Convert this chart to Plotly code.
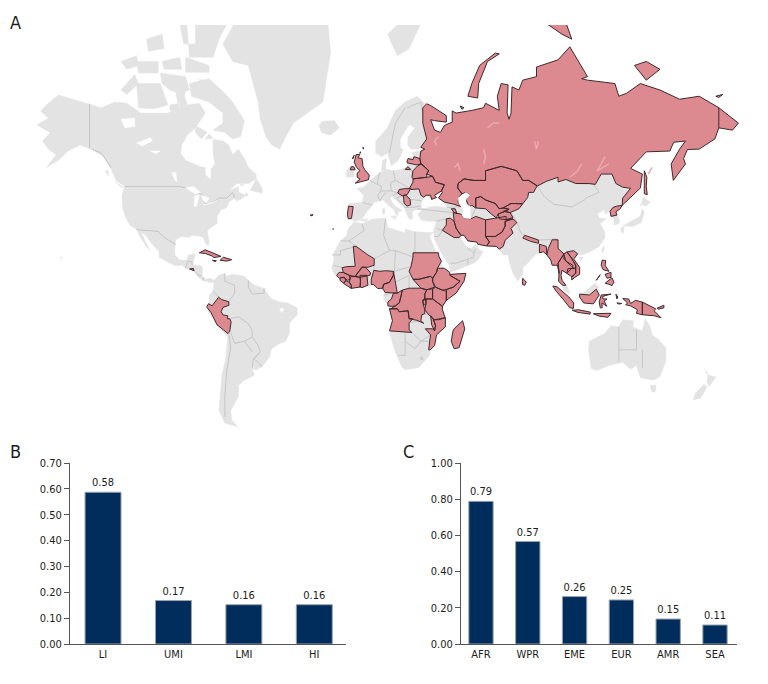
import numpy as np
import plotly.graph_objects as go

# ---------- bar data ----------
income_groups = ["LI", "UMI", "LMI", "HI"]
income_values = [0.587, 0.168, 0.152, 0.152]
income_labels = ["0.58", "0.17", "0.16", "0.16"]
regions = ["AFR", "WPR", "EME", "EUR", "AMR", "SEA"]
region_values = [0.788, 0.566, 0.262, 0.2435, 0.138, 0.105]
region_labels = ["0.79", "0.57", "0.26", "0.25", "0.15", "0.11"]
income_ticks = [0, .1, .2, .3, .4, .5, .6, .7]
region_ticks = [0, .2, .4, .6, .8, 1.0]

# ---------- map data: (lon, lat) outlines ----------
north_america = [(-168,65.6),(-164,66.5),(-162,67),(-166,68.4),(-163,69.5),(-157,71.2),(-150,70.5),(-141,69.7),(-135,69),(-128,70),(-122,69.8),(-115,68),(-108,68),(-101,68),(-95,69),(-94,72),(-91,69.5),(-85,69.8),(-82,68),(-87,65),(-91,63.5),(-94,61),(-94.5,58.8),(-92,57),(-85,55.3),(-82,55),(-82,52.9),(-79.5,51.3),(-79,52),(-79,54.5),(-77,56),(-78,59),(-78,62.4),(-73,62),(-70,61),(-68,58.5),(-65,60),(-62,57.5),(-60,55),(-56,53),(-56,51.5),(-60,50),(-66,50),(-70,47.5),(-65,49),(-65,47),(-61,46),(-64,44.5),(-66,44),(-67,45),(-70,43.5),(-71,41.5),(-74,40.5),(-76,38),(-76,35),(-78,34),(-81,32),(-80,27),(-80.5,25.2),(-82,26.5),(-83,29),(-85,29.7),(-89,30),(-90,29),(-94,29.5),(-97,28),(-97.5,24),(-97.5,21),(-95,18.5),(-91.5,18.5),(-90.5,21),(-87,21.5),(-88,18),(-88.5,16),(-84,15.8),(-83.3,14.5),(-83.7,11),(-82,9),(-79.5,9.5),(-77.5,8.5),(-78,7.3),(-80,7.5),(-83,8.3),(-85.5,10),(-87.5,13),(-91,14),(-94,16),(-97,15.8),(-102,18),(-105.5,20),(-105.5,22.5),(-109,26),(-112.5,30),(-114.7,31.5),(-113,28),(-110,23),(-112,25),(-115,29),(-117,32.5),(-120.5,34.5),(-122.5,37.5),(-124,41),(-124.5,46),(-123,49),(-127.5,51),(-130,54.5),(-134,58),(-140,60),(-146,61),(-152,59.5),(-157,57),(-163,55),(-158,58.5),(-162,60),(-165,62),(-161,64)]
south_america = [(-77.5,8.5),(-75,11),(-72,12),(-71.5,10.5),(-68,11.5),(-62,10.5),(-60,8.5),(-57,6),(-52,4.5),(-50,1),(-48,-1),(-44,-2.5),(-40,-3),(-35.2,-5.5),(-35,-9),(-39,-13),(-39,-18),(-41,-22),(-45,-23.5),(-48.5,-26),(-49,-29),(-53,-33.5),(-56,-34.8),(-58,-34.3),(-57,-37),(-62,-39),(-65,-41),(-65,-45),(-69,-50),(-68.5,-53),(-65.5,-55),(-72,-54),(-75,-50),(-74,-43),(-73.5,-37),(-71.5,-30),(-70.5,-20),(-76,-14),(-81,-6),(-80,-3),(-80,1),(-78,3),(-77.5,7)]
africa = [(-6,35.8),(-2,35),(3,36.8),(10,37.3),(11,33.5),(15,32.3),(20,31),(20,32.8),(25,31.6),(32,31.2),(34.3,31.3),(32.5,29.5),(35,24),(37.3,20),(39,15.5),(43,12),(44,10.5),(51,12),(50,8),(46,2),(41,-2),(39,-6),(40.5,-11),(40.5,-15),(36,-19),(35,-24),(32.8,-26),(32.5,-28.5),(27,-33.8),(20,-34.8),(18.3,-33.5),(15,-27),(12,-18),(13.5,-12),(12,-6),(9,-1),(9.5,3.5),(6,4.3),(4,6.3),(-2,5),(-7.5,4.4),(-13,8.5),(-16.5,12),(-17.5,14.7),(-16.2,19),(-17,21),(-13,27.5),(-9.8,30),(-9,33)]
eurasia = [(-9,37),(-9.3,38.8),(-8.8,43),(-2,43.4),(-1.2,46),(-4.7,48.4),(-1.5,48.7),(2,51),(4,52),(8,53.8),(8.5,57),(10.5,57.5),(10,54.5),(14,54),(19,54.5),(21,55.5),(21.5,57.5),(24,58),(23.5,59.2),(28,59.5),(30,60),(23,60),(21.3,61),(21.5,63),(25,65),(22,65.7),(17.5,62.5),(17.5,60.5),(19,59.8),(16.5,57),(14.5,56),(13,55.5),(11,59),(8,58),(5,59),(5,62),(11,65),(15,68.5),(20,70),(26,71),(31,69.5),(30,65),(33,62),(45,58),(100,57),(125,55),(137,49),(133,44),(130.7,42.3),(127.5,39.8),(129.5,36),(129,35),(126.5,34.5),(126.5,37),(125,38),(124.5,40),(121.5,39),(122,40.8),(118,39),(119,37.3),(122.5,37),(119.5,35),(121.8,31.5),(122,29),(119,25),(114,22.4),(110,21),(108,21.5),(106,19),(109,15),(109,11.5),(106.5,10),(105,8.7),(105,10.3),(102.5,12),(101,13),(100,13.5),(99.5,11),(100,8.5),(103,5),(104,1.5),(101,3),(100.3,6),(98.3,8),(98.5,12),(97.7,16),(95,16),(94.3,18.5),(92,21.5),(90.5,22.5),(87,21.5),(85,19.7),(82,16.5),(80,15),(80,12),(77.5,8),(75,12),(73,18),(72.5,21),(70,21),(68,23.7),(66.5,25),(61.5,25.2),(57,26),(56.5,27),(52,27.5),(50,30),(48.5,30),(48,29),(50,26.5),(51.5,24.5),(54,24.2),(56,26),(57,24),(59.8,22.5),(57.5,19),(55,17),(52,16),(45,13),(43,12.8),(42.5,16),(39,21),(35,28),(34.9,29.5),(34.3,31.3),(36,36),(32,36),(28,36.5),(26.5,39),(29,41),(35,42),(41.5,41.5),(39,44),(37,45),(39,47),(35,46),(33.5,44.5),(30.7,46),(28.5,44),(28,42),(29,41),(26,40.7),(23.5,40),(24,38),(23,36.5),(21.5,37.5),(19.5,41.5),(15,44.5),(13.5,45.7),(12.3,45),(14,42.5),(18.5,40.2),(16.5,39.8),(16,38),(14,40.8),(10.5,43),(8.8,44.3),(4,43.4),(3,42),(0,39.5),(-2,36.8),(-5.5,36)]
australia = [(114,-22),(113.5,-26),(115,-34.3),(118,-35),(124,-33),(131,-31.5),(135,-34.5),(138,-33),(140,-38),(146.5,-39),(150,-37.5),(153,-31),(153,-25),(149,-21),(146,-19),(145,-15),(142.5,-11),(141,-17),(136,-15),(136.5,-12),(131,-11.5),(129,-15),(125,-14.5),(122,-18)]
greenland = [(-73,78),(-68,76),(-60,75.5),(-55,70),(-54,67),(-51,63),(-48,61),(-44,60),(-41,63),(-37,66),(-30,68),(-22,70),(-20,74),(-18,77),(-20,81),(-30,83.5),(-60,82)]
small_land = [
    [(-24,65.5),(-22,66.4),(-16,66.5),(-13.6,65),(-18,63.4),(-22.5,63.9)],
    [(-80,73.7),(-72,71.5),(-68,70),(-62,66.5),(-64,63),(-68,62.5),(-72,64),(-78,64.5),(-73,66),(-73,68),(-80,70),(-89,71),(-90,73)],
    [(-117,73),(-105,73),(-101,69.5),(-108,68.8),(-116,69)],
    [(-125,72),(-118,74.3),(-116,73),(-122,71.3)],
    [(-90,76.5),(-78,76.5),(-75,78.5),(-62,82.5),(-75,83),(-92,81)],
    [(-92,76.5),(-80,75.5),(-80,74.6),(-92,74.6)],
    [(-117,76),(-106,76),(-106,74.5),(-116,74.5)],
    [(-95,80),(-87,80),(-87,78),(-93,78)],
    [(-87,65.5),(-81,64),(-84,62.5),(-87,64)],
    [(-59,47.7),(-53,46.7),(-53,48.5),(-56,51.5)],
    [(-128,50.7),(-123.5,48.5),(-125,48.8)],
    [(-10,52),(-6,52.2),(-6,53.8),(-8,55.2),(-10,54)],
    [(130.8,34),(136,36.5),(139.8,38),(141,41),(142,39.5),(140.5,35.5),(136,33.8),(132.5,34)],
    [(130,33.5),(131.8,33.5),(131.3,31),(130.3,31.3)],
    [(140,42),(141.5,45.4),(145,43.5),(143,42),(141,42.5)],
    [(121,25),(121.8,24.5),(120.7,22),(120.2,23)],
    [(109,20),(110.8,20),(109.8,18.3),(108.7,19)],
    [(145,-41),(148,-41),(147.5,-43.5),(146,-43.5)],
    [(172.7,-34.5),(175,-37),(178.5,-37.7),(175,-41.5),(174,-39.5),(174.5,-37)],
    [(172.5,-40.7),(174,-41.7),(170.7,-45.8),(167,-46.3),(168,-44)],
    [(109.5,1.5),(111.5,2.5),(114,4.7),(116.8,7),(119,5),(117.5,4),(114,1)],
    [(8.5,41),(9.7,41),(9.5,39),(8.5,39)],
    [(12.5,38),(15.5,38.2),(15,36.7)],
    [(11,79),(20,80.5),(28,80),(22,77.5),(16,76.7)],
    [(-105,74.5),(-92,74),(-90,72),(-95,71.5),(-100,72),(-104,73)],
    [(-104,76),(-95,76.5),(-94,75),(-103,75)],
    [(-100,69.5),(-95,69.8),(-96,68.2),(-100,68.5)],
    [(-97,71.5),(-92,72),(-93,70),(-96,69.9)],
    [(-112,78.5),(-104,79),(-103,77.5),(-111,77.2)],
    [(-125,76),(-117,76.7),(-116,75.5),(-122,75)],
    [(-85,73.6),(-80,73.3),(-84,72.8)],
    [(-80,63.7),(-78,62.6),(-82,62.5)],
    [(-64,49.8),(-62,49.5),(-64,49.2)],
    [(-61,47),(-60,46),(-61.5,45.7)],
    [(-133,54),(-131.5,54),(-131.5,52.5)],
    [(-155,20),(-155.5,19),(-156,20)],
    [(-3,36.5),(1,37),(0,35.8)],
]
russia = [(31,69.7),(33,69.4),(41,67.5),(41,66.2),(35,66.5),(33,66.7),(35,64.5),(38,64),(40,65.5),(44,66.2),(44,68.4),(46,68),(54,68.5),(60,69),(61,69.8),(68,68.5),(67,71),(69,73),(72.5,72.8),(72,68),(73,66.8),(74,68),(74.5,72.5),(78,72),(80,73.5),(87,74),(87,75.3),(98,76.2),(104,77.7),(113,74),(110,73.7),(113,73.5),(127,73),(129,71),(133,71.5),(140,73),(150,72),(160,70.5),(170,71),(178,69.5),(180,69),(190,66),(187,64.5),(180,65),(178,62.5),(170,60),(164,59.9),(162,57.5),(163,56),(156.8,51),(155.7,56),(160,60),(163,62),(157,61.7),(155,59.5),(143,59.3),(135,54.7),(141,53),(140,48.5),(132,43.2),(130.7,42.3),(131,45),(135,48.4),(130.8,48.8),(127.5,50),(125.5,53),(120,53),(117,49.7),(114,50),(107,50),(102,51.3),(98,50.5),(98,52),(92,50.7),(87.5,49.2),(83,51),(80,51),(77,54),(71,55),(69,55.3),(61,54),(61,51),(55,51),(50,51.5),(47,50),(46.8,48.5),(49,46.5),(47.5,45.5),(47,43.5),(48.5,41.8),(45,42.7),(40,43.5),(37,45),(39,47),(38.5,47.5),(40,49.6),(35.5,50.4),(34,52.3),(31,53),(32,54),(28,56),(27.5,57.5),(28,59.5),(30,60),(28,60.5),(31,62.5),(29,66),(29,69)]
russia_islands = [
    [(142,54),(143.3,52),(143,49),(143.5,46.2),(142,46.5),(142,50)],
    [(52,71),(57,70.7),(57.5,73),(62,76),(68,76.9),(66,77),(58,75.5),(54,73)],
    [(92,80),(100,79),(105,78.5),(100,81)],
    [(137,75.5),(143,73.5),(150,75),(143,76)],
    [(178.5,71),(182,71.3),(180,70.8)],
    [(20,54.4),(22.8,54.4),(21.5,55.2)],
    [(48,69.3),(50,69),(49,68.7)],
    [(55,81),(60,81),(62,80),(54,80)],
]
central_asia = [
    [(47,50),(50,51.5),(55,51),(61,51),(61,54),(69,55.3),(71,55),(77,54),(80,51),(83,51),(87.3,49.2),(85.5,47),(83,47),(82.5,45.2),(80,42.9),(74,43),(70,41.3),(68,41),(66,43),(61,44.3),(58.5,45.5),(56,45),(56,41.3),(54,42.3),(52.5,41.8),(51,44.5),(53,46),(51,47),(49,46.5),(46.8,48.5)],
    [(56,45),(58.5,45.5),(61,44.3),(66,43),(68,41),(70,41.3),(73,40.8),(71,40),(67.5,39),(66.5,37.4),(64,38.9),(61,41),(56,41.3)],
    [(70,41.3),(74,43),(80,42.9),(78,41),(73.5,39.5),(70,40),(73,40.8)],
    [(67.5,39),(71,40),(73.5,39.5),(75,37.5),(71.5,36.7),(68,37)],
    [(61,36.6),(64,37),(66.5,37.4),(71.5,38),(71.5,36.7),(75,37),(71,36),(71,34),(69.5,31.5),(66,29.5),(61,29.5),(61,35)],
    [(61,29.5),(66,29.5),(69.5,31.5),(71,34),(71,36),(75,37),(77,35.5),(74,33),(75,31),(71,27.8),(70,25),(68,23.7),(66.5,25),(61.5,25.2),(63,27)],
    [(44.5,39.5),(48,39),(49,38.5),(50,37.3),(53.5,37),(56,38),(61,36.6),(61,35),(61,29.5),(63,27),(61.5,25.2),(57,26),(56.5,27),(52,27.5),(50,30),(48.5,30),(46,33),(45,36)],
    [(43,37.3),(45,36),(46,33),(48.5,30),(47.5,29),(45,29),(39,32.2),(41,34.5),(41,37)],
    [(43.5,41),(45.5,41),(46.5,39),(44.8,39.7)],
]
europe_red = [
    [(24,50.5),(24,51.5),(31,52),(34,52.3),(35.5,50.4),(40,49.6),(38.5,47.5),(35,46),(36,45.2),(33.5,44.5),(33,46),(30.7,46),(29.5,45.3),(28,46),(27,48.2),(23,48),(22.3,48.5)],
    [(23.5,52),(24,51.5),(31,52),(31,53),(32,54),(28.5,56),(26.5,55.5),(24,54)],
    [(21,56.8),(21.5,57.5),(24,57.2),(24.5,58),(27.5,57.5),(28,56),(26,55.7),(21,56.3)],
    [(16.2,46.8),(17,48),(20,48.3),(22.8,48.3),(21,46.2),(18.5,45.8)],
    [(19,46),(20.5,46),(22.5,44.5),(22.8,42.5),(21,42),(19.5,43)],
    [(-9.5,38.7),(-8.9,42),(-6.5,41.8),(-7,39.5),(-7.4,37.2),(-9,37)],
    [(-5.5,50.1),(1.3,51.2),(1.7,52.7),(-0.2,54),(-1.5,55.2),(-2,57.5),(-4,57.7),(-3.2,58.6),(-5,58.6),(-6,56.5),(-4.8,55),(-3,54),(-4.5,53.3),(-4.5,52),(-3,51.4)],
    [(-8,54.3),(-5.5,54.3),(-6.2,55.2),(-7.5,55.2)],
    [(-7,57.5),(-6,58.4),(-6.5,57.5)],
    [(-3.3,59),(-2.7,59.3),(-2.9,58.9)],
    [(-1.5,60.5),(-1,60.1),(-1.3,60)],
    [(-28.5,38.5),(-27,38.7),(-27.5,38.2)],
    [(-17,32.8),(-16.5,32.7),(-16.8,32.6)],
]
africa_red = [
    [(-12.2,14.8),(-11.5,12.4),(-8.5,11),(-5.5,10.4),(-4.5,12),(-3,13.6),(-2,15.1),(1,15),(4.2,16),(4.2,19.2),(1,21),(-5,25),(-6.5,25),(-5.5,15.5),(-10,15.3)],
    [(-5.5,10.4),(-3,10),(2,11),(2.4,12.2),(0,14.8),(-2,15.1),(-3,13.6),(-4.5,12)],
    [(-13.5,9.5),(-15,10.9),(-13.7,12.5),(-11.5,12.4),(-8.5,11),(-8,9),(-9.5,8.5),(-10.5,9.5),(-12,10)],
    [(-13.3,8.5),(-11.3,7),(-10.3,8.5),(-11,10),(-13,9.8)],
    [(-11.4,6.9),(-7.5,4.4),(-7.5,6),(-8.5,7.5),(-10.3,8.4)],
    [(-7.5,4.4),(-3,5.1),(-2.8,8),(-3,10),(-5.5,10.4),(-8,10.3),(-8.5,7.5),(-7.5,6)],
    [(-3,5.1),(-2,4.8),(1,6),(0.5,11),(-3,11),(-2.8,8)],
    [(2.7,6.4),(4,6.3),(6,4.3),(8.5,4.5),(9,6.5),(12,7.5),(14,11),(14,13),(10,13.3),(7,13),(4,13.5),(3.5,11.5),(2.7,9)],
    [(8.5,4.5),(9.8,2.3),(16,2),(15,7.5),(14.5,12),(14,13),(14,11),(12,7.5),(9,6.5)],
    [(24,20),(24,22),(36.9,22),(37.3,20),(38.5,18),(36.5,14.5),(36,12.5),(34,9.5),(33,10.5),(29,9.5),(27,9),(24,9),(22.8,11),(22,13),(23,15.5)],
    [(24,9),(27,9),(29,9.5),(33,10.5),(34,9.5),(34,8),(35,5),(31,3.7),(28,4.5),(24.5,8)],
    [(36,12.5),(36.5,14.5),(38,14.5),(40,14.5),(42.7,12.5),(42.8,11),(48,8),(44.5,5),(41.5,4),(39,3.5),(35.5,5),(34,8),(34,9.5)],
    [(43,11.5),(51,12),(50,8),(46,2),(41,-1.7),(41,3),(41.5,4),(44.5,5),(48,8),(43,11)],
    [(34,4.2),(35.5,5),(39,3.5),(41,3),(41,-1.7),(39,-4.7),(34,-1)],
    [(30,-1),(34,-1),(34,4.2),(31,3.7),(30,1.5)],
    [(30,-1),(34,-1),(39,-4.7),(39,-6.5),(40.4,-10.5),(35,-11.5),(32,-9),(30,-6.5),(30.7,-3)],
    [(29,-1.5),(30.8,-1.2),(30.5,-4),(29.3,-4)],
    [(12,-6),(13,-5.8),(15,-4.5),(17,-3),(18,1),(18.5,3.5),(22,4.5),(28,4.5),(31,3.7),(30,1.5),(30,-1),(29,-1.5),(29.3,-4),(30,-6.5),(30,-8.5),(28.5,-9),(28,-12),(29.5,-13.3),(26,-11.8),(22,-11),(21.5,-7),(17,-7.5),(16,-6)],
    [(11.2,-4.5),(13,-4.8),(15,-4.5),(17,-3),(18,1),(18.5,3.5),(16,2),(14,2),(13,-1),(11.2,-2.5)],
    [(12,-6),(16,-6),(17,-7.5),(21.5,-7),(22,-11),(24,-11),(22,-13),(22,-16.5),(23.5,-17.8),(20,-17.5),(12,-17),(13.5,-12)],
    [(33,-9.5),(34.5,-11.5),(35.5,-14.5),(35,-17),(33.5,-14),(33,-11)],
    [(40.5,-10.5),(40.5,-15),(36,-19),(35,-24),(32.8,-26),(32,-26),(32.5,-22),(33,-19),(30.3,-16),(34,-16),(35,-17),(35.5,-14.5),(34.5,-11.5),(37,-11.5)],
    [(49.3,-12),(50.4,-16),(47.5,-25),(45,-25.5),(43.5,-22),(44.5,-16.5)],
]
asia_red = [
    [(80,28.8),(81,30),(88,27.9),(88,26.4),(84,27.3)],
    [(88.5,26),(92,25),(92.3,21),(90.5,22.5),(88.5,22)],
    [(92.3,21),(93,24),(95,28),(98,28),(98,24),(101,21.5),(100,20),(98,17),(98.5,12),(97.7,16),(95,16),(94.3,18.5)],
    [(100,20),(101,21),(102,18),(105.5,15),(102.5,12),(101,13),(100,13.5),(99.5,11),(100,8.5),(102,6),(100.3,6),(98.3,8),(98.5,12),(98,17)],
    [(101,21.5),(102.5,22.4),(104.5,20),(107,16),(107,14.5),(105.5,14.5),(105.5,16),(102,18),(101,19)],
    [(102.5,12),(103,14.3),(107,14.5),(107,12),(105,10.3)],
    [(102.5,22.4),(106,23),(108,21.5),(106,19),(109,15),(109,11.5),(106.5,10),(105,8.7),(105,10.3),(107,12),(107,16),(104.5,20)],
    [(80,9.5),(81.8,7.5),(81,6),(80,6.2),(79.8,8)],
    [(124.5,40),(125,38),(128,38.5),(127.5,39.8),(129.7,41),(130.7,42.3),(128,42),(126,41.5)],
    [(120.5,18.5),(122.3,18.3),(122,16),(124,13),(121,13.8),(120,16)],
    [(122,7),(125.5,9.8),(126.5,7.5),(125.5,5.8),(124,6.5)],
    [(122,11.5),(125,12.5),(125,10),(123,9.5)],
    [(117.5,8.5),(119.5,11.3),(119,10)],
    [(95.3,5.6),(97.5,5.2),(103.5,0),(106,-3),(105.8,-5.8),(104,-5.5),(100.5,-1),(97,3)],
    [(105.2,-6.7),(108.5,-6.5),(114.5,-7.7),(114.3,-8.7),(108,-7.8)],
    [(109,1.5),(114,1),(117.5,4),(119,1),(116,-3.5),(111,-3),(109,0)],
    [(120,1),(125,1.5),(120.7,0.3),(121,-1),(123,-1),(121.5,-2),(122.8,-4.7),(120.4,-3),(120.5,-5.5),(119.5,-5.5),(119,-2.5)],
    [(116,-8.5),(119,-8.3),(123,-8.3),(125,-8.3),(123.5,-10.3),(119,-9.7)],
    [(127.5,1.5),(128.5,0),(128,-1)],
    [(128,-3),(130.5,-3.3),(129,-3.6)],
    [(131,-0.8),(134,-1),(135,-3.3),(137.5,-1.7),(141,-2.6),(141,-9),(138,-8.3),(138.5,-6.5),(135,-4.5),(132.5,-4),(133.5,-3)],
    [(141,-2.6),(145,-4.5),(147.8,-6),(147,-7),(150.5,-10.5),(147,-9.5),(143,-9.2),(141,-9)],
    [(148.5,-5.7),(152,-4.2),(152,-5.5),(149,-6.2)],
]
caribbean_red = [
    [(-85,22),(-82,23.4),(-77,21.5),(-74,20.3),(-77.5,19.7),(-78.5,20.5),(-82,21.7)],
    [(-74.4,18.4),(-72.8,19.9),(-68.5,18.7),(-71,18)],
    [(-78.3,18.4),(-76.3,18.2),(-77,17.8)],
    [(-90,14.2),(-87.7,13.3),(-88,14.4)],
]
peru = [(-75.2,-0.1),(-73.6,-1.3),(-70,-2.4),(-69.9,-4.2),(-72.9,-5.3),(-73.9,-7.4),(-72.9,-9.1),(-70.5,-9.5),(-70.6,-11),(-69.5,-11),(-68.8,-12.5),(-69.3,-15.5),(-69.5,-17.3),(-70.4,-18.3),(-76,-14),(-79,-8),(-81.3,-5),(-80.3,-3.4),(-78.5,-4.5)]
chukotka_line = [[(180,69),(180,65)]]
water = [
    [(47,45),(51,47),(53,46),(51,44.5),(50.5,43),(53,42),(53,40),(53.5,37),(50,37.3),(49,38.5),(50,40.3),(47.5,43)],
    [(-92,48.5),(-88,49),(-84.5,47),(-87,46.5)],
    [(-87.5,45.8),(-85,46),(-86.5,42),(-87.7,42)],
    [(-84,46),(-80,45),(-81.5,43.3),(-83,44)],
    [(-83,42.5),(-79,43),(-76,44),(-78,43.4)],
    [(-125,66.8),(-118,67),(-118,65.3),(-123,65)],
    [(-117,61.5),(-110,62.8),(-109,62),(-114,60.8)],
    [(-99,53.5),(-97,53.5),(-96.5,50.5),(-97.5,51)],
    [(-110,59.5),(-105,59.5),(-107,58.8)],
    [(-44,-6),(-42,-6),(-43,-8)],
]
pale_streaks = [
    [(104,52),(108,54),(110,56)], [(62,65),(65,66),(68,66)], [(36,61),(35,62),(37,63)],
    [(60,56),(61,58),(60,60)], [(48,54),(47,56),(45,55)], [(86,62),(87,60),(88,62)],
    [(122,58),(118,54),(124,56)], [(144,53),(146,55)],
]
grey_borders = [
    [(-141,69.7),(-141,60)], [(-140,60),(-135,59),(-130,55)], [(-123,49),(-95,49),(-89,48),(-83,46),(-82,43),(-79,43),(-75,45),(-71,45),(-68,47),(-67,45)],
    [(-117,32.5),(-106,31.7),(-103,29),(-97.2,26)], [(-92,14.5),(-91,17.8),(-89,17.8),(-88.5,16)], [(-83.7,11),(-85.5,11),(-87.5,13)], [(-83,8.3),(-83,10)],
    [(-72,12),(-72,8),(-67,6),(-67,2),(-70,-2.4)], [(-78,3),(-75,0)], [(-60,8.5),(-60,5),(-58,1.5),(-52,2),(-52,4.5)],
    [(-69.5,-11),(-65,-10),(-60,-13.5),(-58,-17),(-58,-20),(-62,-22),(-67,-23),(-69,-18)],
    [(-58,-20),(-55,-24),(-54,-27),(-57.5,-30),(-58,-34)], [(-70,-18),(-69,-25),(-71,-35),(-72,-45),(-72,-52)], [(-58,-27),(-62,-22)], [(-54,-27),(-57,-30),(-53,-33.5)],
    [(-2,35),(-1,32),(-8.7,27.5),(-13,27.5)], [(-8.7,27.5),(-5,25)], [(-17,21),(-13,21),(-13,23),(-5,25)], [(-16.5,16),(-12.2,14.8)],
    [(9,30),(10,37)], [(9,30),(12,23),(4.2,19.2)], [(12,23),(15,23),(24,20)], [(25,31.6),(25,22)], [(25,22),(36.9,22)],
    [(15,23),(14.5,12)], [(4.2,16),(4,13.5)], [(14,13),(24,15.5)], [(15,7.5),(22,11)], [(22,4.5),(22,11)],
    [(12,-17),(23.5,-17.8),(28,-22),(33,-19)], [(20,-17.5),(20,-28.5),(16.5,-28.5)], [(20,-22),(25,-25.5),(28,-22)], [(28,-22),(32,-22)], [(22,-13),(28,-12)], [(30,-8.5),(33,-9.5)],
    [(9,1),(13,2)], [(28.5,-29),(29,-30.5),(27.5,-30),(28.5,-29)],
    [(2,51),(6,49.5),(8,49),(7.5,47.5),(6,46),(7,44)], [(-1.8,43.3),(3,42.5)], [(7,53.5),(6,51),(6,49.5)], [(14,54),(15,51),(12.5,50.3),(13,47.5),(10,47.5),(7.5,47.5)],
    [(15,51),(19,49.5),(22.3,48.5)], [(13,47.5),(16.2,46.8),(13.5,45.7)], [(7,44),(10,47)], [(18.5,45.8),(15.5,45),(19.5,42)],
    [(22.8,42.5),(22.5,44.5),(28.5,44)], [(21,46.2),(22,48)], [(23,41.5),(28,42)], [(19.5,41.5),(23,41.5)],
    [(23.5,54),(23.5,52)], [(19,54.5),(23.5,54)], [(12,59),(15,66),(20,69)], [(21,69),(28,70),(30,65)],
    [(26,41),(44.5,39.5)], [(36,36),(41,37)], [(39,32.2),(36,33)], [(39,32.2),(37,29.5),(35,29.5)], [(48,29),(45,29),(39,32)], [(51.5,24.5),(55,22),(55,20),(52,19),(52,16)], [(43,17),(46,17),(52,19)], [(56,24),(55,22)],
    [(56,41.3),(53.5,37)], [(41.5,41.5),(48.5,41.8)],
    [(87.5,49.2),(91,45.5),(96,42.7),(105,41.7),(112,44.5),(112,45),(119,47),(116,49.7),(107,50)], [(80,42.9),(74,39.5),(77,35.5),(79,31),(81,30)], [(88,27.9),(92,28),(97,28.5),(98,24)],
    [(101,21.5),(102.5,22.4)], [(124.5,40),(130.7,42.3)], [(74,33),(75,31),(71,27.8),(70,25),(68,23.7)],
    [(100.3,6),(102,6)],
    [(129,-15),(129,-31.5)], [(138,-16.5),(138,-26),(129,-26)], [(141,-26),(141,-34)],
]

lon_left, lon_right = -186.7, 205.1
merc_top, merc_bottom = 2.422, -1.184


def merc(lat):
    return np.log(np.tan(np.pi / 4 + np.radians(lat) / 2))


def paths(polys, close=True):
    xs, ys = [], []
    for poly in polys:
        pts = list(poly) + ([poly[0]] if close else [])
        xs += [p[0] for p in pts] + [None]
        ys += [float(merc(p[1])) for p in pts] + [None]
    return xs, ys


def add_fill(polys, fill, line, width):
    x, y = paths(polys)
    fig.add_trace(go.Scatter(x=x, y=y, mode="lines", fill="toself", fillcolor=fill,
                             line=dict(color=line, width=width), hoverinfo="skip", showlegend=False))


def add_line(polys, color, width):
    x, y = paths(polys, close=False)
    fig.add_trace(go.Scatter(x=x, y=y, mode="lines", line=dict(color=color, width=width),
                             hoverinfo="skip", showlegend=False))


fig = go.Figure()
GREY = "#e3e3e3"
RED = "#dc8a90"
EDGE = "#40292d"
add_fill([north_america, south_america, africa, eurasia, australia, greenland] + small_land, GREY, GREY, 0.5)
add_line(grey_borders, "#c6c6c6", 1)
add_fill([russia] + russia_islands + central_asia + europe_red + africa_red + asia_red + caribbean_red + [peru],
         RED, EDGE, 1)
add_line(chukotka_line, EDGE, 1)
add_line(pale_streaks, "#eba9ad", 1.5)
add_fill(water, "#ffffff", "#ffffff", 0.5)

FONT = "DejaVu Sans Condensed, Liberation Sans Narrow, sans-serif"
INK = "#1d1d1b"
AXIS = "#555555"
NAVY = "#002d5b"
EDGE_BAR = "#9aa3ad"

fig.add_trace(go.Bar(x=income_groups, y=income_values, text=income_labels, textposition="outside",
                     width=0.511, marker=dict(color=NAVY, line=dict(color=EDGE_BAR, width=1)),
                     xaxis="x2", yaxis="y2", cliponaxis=False, showlegend=False,
                     textfont=dict(family=FONT, size=11, color=INK)))
fig.add_trace(go.Bar(x=regions, y=region_values, text=region_labels, textposition="outside",
                     width=0.52, marker=dict(color=NAVY, line=dict(color=EDGE_BAR, width=1)),
                     xaxis="x3", yaxis="y3", cliponaxis=False, showlegend=False,
                     textfont=dict(family=FONT, size=11, color=INK)))

W, H = 768, 684
tick = dict(family=FONT, size=11, color=INK)


def ydom(bottom, top):
    return [1 - bottom / H, 1 - top / H]


common = dict(automargin=False, showgrid=False, zeroline=False)
fig.update_layout(
    template="none",
    width=W, height=H, autosize=False, margin=dict(l=0, r=0, t=0, b=0, pad=0),
    paper_bgcolor="white", plot_bgcolor="rgba(0,0,0,0)", showlegend=False,
    font=dict(family=FONT, color=INK),
    xaxis=dict(domain=[0, 1], range=[lon_left, lon_right], visible=False, fixedrange=True, **common),
    yaxis=dict(domain=ydom(430, 25), range=[merc_bottom, merc_top], visible=False, fixedrange=True, **common),
    xaxis2=dict(domain=[70 / W, 346 / W], range=[-0.469, 3.45], type="category", anchor="y2",
                showline=True, linecolor=AXIS, linewidth=1, ticks="", tickfont=tick, **common),
    yaxis2=dict(domain=ydom(644, 463), range=[0, 0.7], anchor="x2", tickmode="array", tickvals=income_ticks,
                tickformat=".2f", showline=True, linecolor=AXIS, linewidth=1, ticks="outside", ticklen=5,
                tickcolor=AXIS, tickfont=tick, **common),
    xaxis3=dict(domain=[461 / W, 737 / W], range=[-0.427, 5.47], type="category", anchor="y3",
                showline=True, linecolor=AXIS, linewidth=1, ticks="", tickfont=tick, **common),
    yaxis3=dict(domain=ydom(644, 463), range=[0, 1.0], anchor="x3", tickmode="array", tickvals=region_ticks,
                tickformat=".2f", showline=True, linecolor=AXIS, linewidth=1, ticks="outside", ticklen=5,
                tickcolor=AXIS, tickfont=tick, **common),
)
for letter, px, py in [("A", 15, 22), ("B", 15, 451), ("C", 408, 451)]:
    fig.add_annotation(text=letter, xref="paper", yref="paper", x=px / W, y=1 - py / H, showarrow=False,
                       xanchor="center", yanchor="middle", font=dict(family=FONT, size=18, color=INK))

fig.write_html("out.html", config=dict(displayModeBar=False),
               post_script="document.body.style.margin='0';")
